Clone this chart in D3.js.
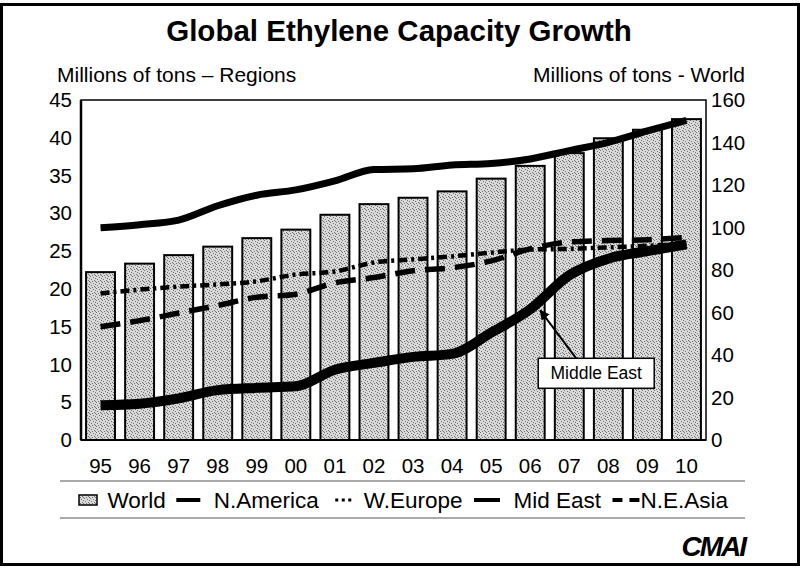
<!DOCTYPE html>
<html><head><meta charset="utf-8">
<script src="https://cdn.jsdelivr.net/npm/d3@7/dist/d3.min.js"></script>
<style>body{margin:0;background:#fff}svg{display:block}text{font-family:"Liberation Sans",Arial,sans-serif;fill:#000}</style>
</head><body><svg id="c" width="802" height="568"></svg>
<script>
const years = ["95","96","97","98","99","00","01","02","03","04","05","06","07","08","09","10"];
const world = [79, 83, 87, 91, 95, 99, 106, 111, 114, 117, 123, 129, 135, 142, 146, 151];
const nAmerica = [28.1, 28.5, 29.1, 31.0, 32.4, 33.1, 34.3, 35.8, 35.9, 36.4, 36.6, 37.2, 38.3, 39.4, 40.9, 42.3];
const wEurope = [19.4, 19.9, 20.3, 20.6, 21.0, 21.9, 22.3, 23.5, 23.9, 24.3, 24.8, 25.2, 25.3, 25.5, 25.7, 26.0];
const midEast = [4.6, 4.8, 5.5, 6.6, 6.9, 7.1, 9.3, 10.2, 11.0, 11.4, 14.2, 17.3, 21.8, 24.0, 25.0, 25.9];
const neAsia = [15.0, 15.8, 16.8, 17.8, 18.9, 19.3, 20.8, 21.5, 22.4, 22.8, 23.7, 25.3, 26.2, 26.4, 26.5, 26.8];
const leftTicks = [0,5,10,15,20,25,30,35,40,45];
const rightTicks = [0,20,40,60,80,100,120,140,160];
const legendNames = ["World","N.America","W.Europe","Mid East","N.E.Asia"];
const title = "Global Ethylene Capacity Growth";
const leftTitle = "Millions of tons \u2013 Regions";
const rightTitle = "Millions of tons - World";
const annotation = "Middle East";

const svg = d3.select("#c");
const L = 81, R = 706, T = 100, B = 440;

// page frame
svg.append("rect").attr("x",1.5).attr("y",4.5).attr("width",797).attr("height",560)
  .attr("fill","none").attr("stroke","#000").attr("stroke-width",3);

// stipple pattern
const defs = svg.append("defs");
const pat = defs.append("pattern").attr("id","stip").attr("patternUnits","userSpaceOnUse")
  .attr("width",6).attr("height",6);
pat.append("rect").attr("width",6).attr("height",6).attr("fill","#dadada");
[[0,0],[3,1],[1,3],[4,4],[2,5],[5,2],[5,5]].forEach(([a,b])=>pat.append("rect").attr("x",a).attr("y",b).attr("width",1).attr("height",1).attr("fill","#707070"));

const x = d3.scaleBand().domain(years).range([L,R]).paddingInner(0.26).paddingOuter(0.13);
const yL = d3.scaleLinear().domain([0,45]).range([B,T]);
const yR = d3.scaleLinear().domain([0,160]).range([B,T]);
const xc = d => x(d) + x.bandwidth()/2;

// titles
svg.append("text").attr("x",399).attr("y",41).attr("text-anchor","middle")
  .attr("font-size",29.5).attr("font-weight","bold").text(title);
svg.append("text").attr("x",57).attr("y",82).attr("font-size",21).text(leftTitle);
svg.append("text").attr("x",745).attr("y",82).attr("text-anchor","end").attr("font-size",21).text(rightTitle);

// bars
svg.append("g").selectAll("rect").data(years).join("rect")
  .attr("x",d=>x(d)).attr("width",x.bandwidth())
  .attr("y",(d,i)=>yR(world[i])).attr("height",(d,i)=>B-yR(world[i]))
  .attr("fill","url(#stip)").attr("stroke","#000").attr("stroke-width",2);

// plot frame
svg.append("rect").attr("x",L).attr("y",T).attr("width",R-L).attr("height",B-T)
  .attr("fill","none").attr("stroke","#000").attr("stroke-width",1.5);
svg.append("line").attr("x1",L).attr("x2",L).attr("y1",T).attr("y2",B).attr("stroke","#000").attr("stroke-width",2.5);
svg.append("line").attr("x1",L).attr("x2",R).attr("y1",B).attr("y2",B).attr("stroke","#000").attr("stroke-width",2);

// axes
const axL = svg.append("g").attr("transform",`translate(${L},0)`)
  .call(d3.axisLeft(yL).tickValues(leftTicks).tickSize(0).tickPadding(9));
const axR = svg.append("g").attr("transform",`translate(${R},0)`)
  .call(d3.axisRight(yR).tickValues(rightTicks).tickSize(0).tickPadding(5));
const axB = svg.append("g").attr("transform",`translate(0,${B})`)
  .call(d3.axisBottom(x).tickSize(0).tickPadding(18));
[axL,axR,axB].forEach(a=>{a.select(".domain").remove();
  a.selectAll("text").attr("font-size",20.5).attr("font-family","Liberation Sans, Arial, sans-serif").attr("fill","#000");});

// lines
const line = arr => d3.line().x((d,i)=>xc(years[i])).y(d=>yL(d)).curve(d3.curveMonotoneX)(arr);
svg.append("path").attr("d",line(wEurope)).attr("fill","none").attr("stroke","#000")
  .attr("stroke-width",4.5).attr("stroke-dasharray","9,4,3,4");
svg.append("path").attr("d",line(neAsia)).attr("fill","none").attr("stroke","#000")
  .attr("stroke-width",5.5).attr("stroke-dasharray","20,10");
svg.append("path").attr("d",line(nAmerica)).attr("fill","none").attr("stroke","#000")
  .attr("stroke-width",7);
svg.append("path").attr("d",line(midEast)).attr("fill","none").attr("stroke","#000")
  .attr("stroke-width",10);

// annotation
const tipX = xc("06")+10, tipY = yL(midEast[11])+1;
const bx = tipX-2, by = tipY+48, bw = 116, bh = 30;
defs.append("marker").attr("id","arr").attr("viewBox","0 0 10 10").attr("refX",9).attr("refY",5)
  .attr("markerWidth",5).attr("markerHeight",5).attr("orient","auto")
  .append("path").attr("d","M0,0L10,5L0,10z").attr("fill","#000");
svg.append("line").attr("x1",bx+38).attr("y1",by).attr("x2",tipX).attr("y2",tipY)
  .attr("stroke","#000").attr("stroke-width",2).attr("marker-end","url(#arr)");
svg.append("rect").attr("x",bx).attr("y",by).attr("width",bw).attr("height",bh)
  .attr("fill","#fff").attr("stroke","#000").attr("stroke-width",1.5);
svg.append("text").attr("x",bx+bw/2).attr("y",by+bh/2+6).attr("text-anchor","middle")
  .attr("font-size",17.5).text(annotation);

// legend
svg.append("line").attr("x1",60).attr("x2",745).attr("y1",481).attr("y2",481).attr("stroke","#555").attr("stroke-width",1);
svg.append("line").attr("x1",60).attr("x2",745).attr("y1",518).attr("y2",518).attr("stroke","#555").attr("stroke-width",1);
const lg = svg.append("g");
const ly = 500, lx0 = 79, lx1 = 728;
const fs = 22.5;
const tmp = lg.append("text").attr("font-size",fs);
const widths = legendNames.map(n => { tmp.text(n); return tmp.node().getComputedTextLength(); });
tmp.remove();
const symW = [18,24,16,26,27], gapBefore = [5,8,7,8,1], gapAfter = [5,11,6,6,0];
const used = d3.sum(symW)+d3.sum(gapBefore)+d3.sum(gapAfter)+d3.sum(widths);
const extra = Math.max(0,(lx1-lx0-used))/8;
let cx = lx0;
legendNames.forEach((n,i)=>{
  const s0 = cx, s1 = cx+symW[i];
  if(i===0){
    lg.append("rect").attr("x",s0).attr("y",ly-5).attr("width",symW[i]).attr("height",10)
      .attr("fill","url(#stip)").attr("stroke","#000").attr("stroke-width",1.5);
  } else {
    const ln = lg.append("line").attr("x1",s0).attr("x2",s1).attr("y1",ly).attr("y2",ly).attr("stroke","#000");
    if(i===1||i===3) ln.attr("stroke-width",4);
    if(i===2) ln.attr("stroke-width",3).attr("stroke-dasharray","3,3.5");
    if(i===4) ln.attr("stroke-width",4).attr("stroke-dasharray","10,7");
  }
  cx = s1 + gapBefore[i] + (i<4 ? extra : 0);
  lg.append("text").attr("x",cx).attr("y",ly+7.5).attr("font-size",fs).text(n);
  cx += widths[i] + gapAfter[i] + (i<4 ? extra : 0);
});

// logo
svg.append("text").attr("x",745).attr("y",556).attr("text-anchor","end")
  .attr("font-size",28).attr("font-style","italic").attr("font-weight","bold")
  .attr("letter-spacing",-2).text("CMAI");
</script></body></html>
